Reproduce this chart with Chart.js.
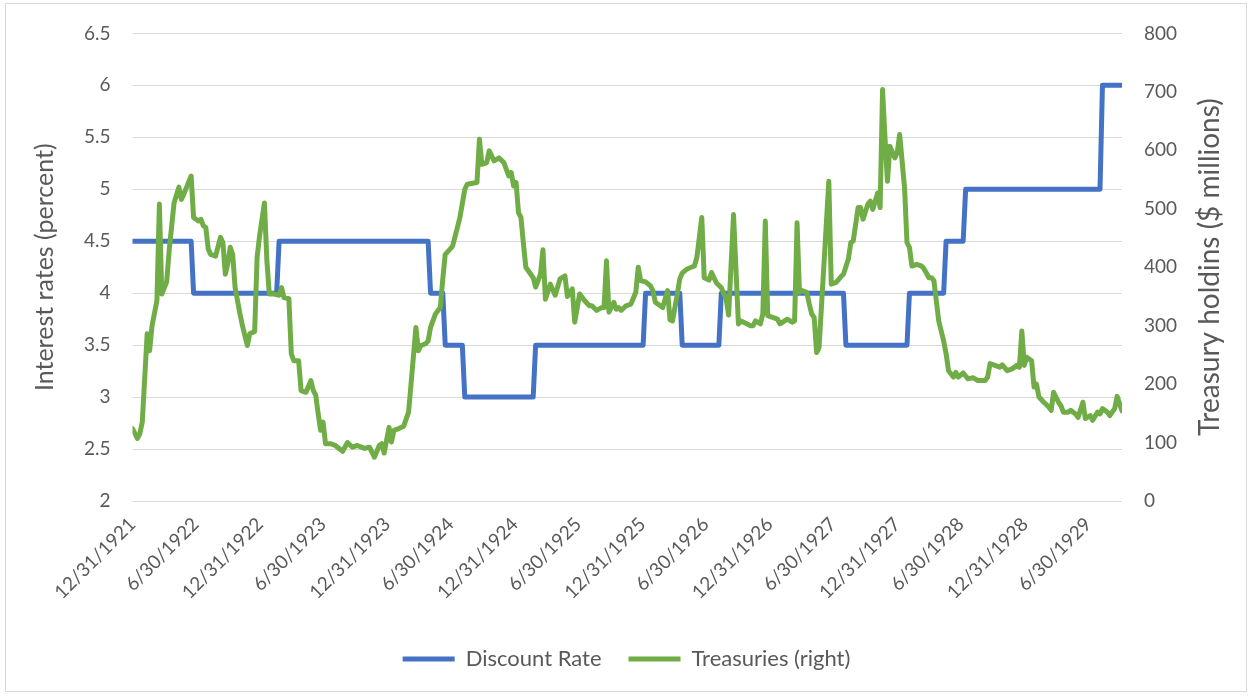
<!DOCTYPE html>
<html>
<head>
<meta charset="utf-8">
<script src="https://cdn.jsdelivr.net/npm/chart.js@4.4.1/dist/chart.umd.min.js"></script>
<style>
  html, body { margin: 0; padding: 0; background: #fff; }
  canvas { display: block; }
</style>
</head>
<body>
<canvas id="chart" width="1252" height="696"></canvas>
<script>
// half-year labels on the date axis
const dateTicks = ['12/31/1921', '6/30/1922', '12/31/1922', '6/30/1923', '12/31/1923', '6/30/1924',
  '12/31/1924', '6/30/1925', '12/31/1925', '6/30/1926', '12/31/1926', '6/30/1927',
  '12/31/1927', '6/30/1928', '12/31/1928', '6/30/1929'];

// discount rate: week of each change (weeks after 12/31/1921) and the new rate
const rateWeeks = [0, 25, 60, 122, 128, 136, 165, 210, 225, 241, 292, 318, 333, 341, 397];
const rateValues = [4.5, 4, 4.5, 4, 3.5, 3, 3.5, 4, 3.5, 4, 3.5, 4, 4.5, 5, 6];
const lastWeek = 405;

// treasury holdings, $ millions, as [week, value]
const treasuries = [
  [0,124],[2,107],[3,115],[4,135],[6,286],[7,257],[8,300],[10,343],[11,508],[12,354],[14,375],[15,428],
  [17,510],[19,537],[20,516],[21,525],[24,556],[25,485],[27,479],[28,482],[29,471],[30,468],[31,431],
  [32,422],[34,419],[36,451],[37,442],[38,388],[39,406],[40,434],[41,422],[42,365],[44,320],[45,300],
  [47,266],[48,286],[50,290],[51,417],[52,453],[54,510],[55,411],[56,354],[58,354],[60,352],[61,365],
  [62,348],[64,346],[65,252],[66,240],[68,240],[69,189],[71,186],[73,206],[74,189],[75,181],[76,149],
  [77,121],[78,135],[79,98],[81,98],[83,95],[86,85],[88,100],[90,92],[92,95],[95,90],[97,92],[99,75],
  [101,95],[102,98],[103,82],[105,126],[106,101],[107,121],[109,124],[111,128],[113,152],[114,200],
  [116,297],[117,257],[118,266],[120,269],[121,274],[122,297],[124,320],[126,331],[127,380],[128,422],
  [130,431],[131,436],[133,468],[134,485],[136,533],[137,542],[141,545],[142,619],[143,576],[145,579],
  [146,599],[148,582],[150,587],[152,579],[154,556],[155,562],[156,539],[157,545],[158,493],[159,485],
  [160,440],[161,400],[163,388],[164,382],[165,366],[167,388],[168,430],[169,345],[171,371],[173,352],
  [175,380],[177,385],[178,350],[180,363],[181,306],[183,354],[185,343],[187,334],[188,334],[190,326],
  [192,331],[193,331],[194,411],[195,323],[197,340],[198,328],[199,331],[200,326],[202,334],[204,337],
  [206,357],[207,400],[208,377],[210,375],[212,368],[213,360],[214,340],[215,337],[217,331],[219,360],
  [220,310],[221,308],[223,354],[224,380],[225,390],[227,397],[230,402],[231,417],[233,485],[234,382],
  [236,378],[237,391],[239,373],[241,365],[243,345],[244,318],[246,490],[248,303],[249,308],[251,304],
  [253,300],[254,300],[255,308],[257,303],[258,320],[259,479],[260,317],[262,314],[264,311],[265,303],
  [268,311],[270,306],[271,308],[272,476],[273,357],[274,360],[276,357],[277,337],[278,320],[279,314],
  [280,254],[281,262],[285,547],[286,371],[288,374],[290,384],[291,388],[293,414],[294,442],[295,445],
  [297,502],[298,502],[299,482],[301,508],[302,513],[303,499],[305,527],[306,502],[307,704],[308,621],
  [309,547],[310,607],[312,587],[313,596],[314,627],[316,536],[317,442],[318,434],[319,402],[321,405],
  [323,402],[324,397],[326,382],[327,382],[328,377],[330,308],[332,274],[333,252],[334,223],[336,212],
  [337,220],[338,212],[340,219],[342,209],[344,211],[346,206],[349,206],[350,212],[351,235],[353,232],
  [355,229],[356,233],[358,223],[360,226],[362,232],[363,229],[364,291],[365,232],[366,246],[368,240],
  [369,195],[370,200],[371,178],[373,169],[375,161],[376,155],[377,186],[379,169],[380,163],[381,152],
  [383,152],[384,155],[386,149],[387,143],[389,169],[390,141],[392,146],[393,138],[395,152],[396,149],
  [397,158],[399,152],[400,146],[402,158],[403,179],[405,154]
];

const DAY0 = Date.UTC(1921, 11, 31);
const weekOf = s => {
  const [m, d, y] = s.split('/').map(Number);
  return (Date.UTC(y, m - 1, d) - DAY0) / 864e5 / 7;
};
const tickWeeks = dateTicks.map(weekOf);

// weekly step line: old rate held until the week before each change
const ratePoints = [];
rateWeeks.forEach((w, i) => {
  if (i > 0) ratePoints.push({ x: w - 1, y: rateValues[i - 1] });
  ratePoints.push({ x: w, y: rateValues[i] });
});
ratePoints.push({ x: lastWeek, y: rateValues[rateValues.length - 1] });

const GREY = '#595959';
const FONT = 'Lato';

// white background, light frame and the upward-reading right axis title
const decor = {
  id: 'decor',
  beforeDraw(chart) {
    const c = chart.ctx;
    c.save();
    c.fillStyle = '#fff';
    c.fillRect(0, 0, chart.width, chart.height);
    c.strokeStyle = '#d9d9d9';
    c.lineWidth = 1;
    c.strokeRect(5.5, 3.5, 1241, 688);
    c.restore();
  },
  afterDraw(chart) {
    const c = chart.ctx;
    const a = chart.chartArea;
    c.save();
    c.translate(1210, (a.top + a.bottom) / 2);
    c.rotate(-Math.PI / 2);
    c.font = '28px ' + FONT;
    c.fillStyle = GREY;
    c.textAlign = 'center';
    c.textBaseline = 'middle';
    c.fillText('Treasury holdins ($ millions)', 0, 0);
    c.restore();
  }
};

new Chart(document.getElementById('chart').getContext('2d'), {
  type: 'line',
  data: {
    datasets: [
      {
        label: 'Discount Rate',
        data: ratePoints,
        borderColor: '#4472C4',
        backgroundColor: '#4472C4',
        borderWidth: 5,
        borderCapStyle: 'round',
        borderJoinStyle: 'round',
        pointRadius: 0,
        yAxisID: 'y',
        order: 1
      },
      {
        label: 'Treasuries (right)',
        data: treasuries.map(([w, v]) => ({ x: w, y: v })),
        borderColor: '#70AD47',
        backgroundColor: '#70AD47',
        borderWidth: 5,
        borderCapStyle: 'round',
        borderJoinStyle: 'round',
        pointRadius: 0,
        yAxisID: 'y2',
        order: 0
      }
    ]
  },
  options: {
    responsive: false,
    animation: false,
    layout: { padding: { top: 32, left: 21, right: 20, bottom: 16 } },
    scales: {
      x: {
        type: 'linear',
        position: 'bottom',
        min: 0,
        max: lastWeek,
        grid: { display: false },
        border: { display: false },
        afterBuildTicks: scale => { scale.ticks = tickWeeks.map(v => ({ value: v })); },
        afterFit: scale => { scale.height = 120; },
        ticks: {
          autoSkip: false,
          minRotation: 45,
          maxRotation: 45,
          padding: 4,
          color: GREY,
          font: { family: FONT, size: 19 },
          callback: (v, i) => dateTicks[i]
        }
      },
      y: {
        position: 'left',
        min: 2,
        max: 6.5,
        afterFit: scale => { scale.width = 111.5; },
        grid: { color: '#d9d9d9', lineWidth: 1, drawTicks: false },
        border: { display: false },
        ticks: {
          stepSize: 0.5,
          padding: 22,
          color: GREY,
          font: { family: FONT, size: 19 },
          callback: v => v
        },
        title: {
          display: true,
          text: 'Interest rates (percent)',
          color: GREY,
          font: { family: FONT, size: 25 },
          padding: { top: 9, bottom: 0 }
        }
      },
      y2: {
        position: 'right',
        min: 0,
        max: 800,
        afterFit: scale => { scale.width = 110; },
        grid: { display: false, drawTicks: false },
        border: { display: false },
        ticks: {
          stepSize: 100,
          padding: 22,
          color: GREY,
          font: { family: FONT, size: 19 }
        }
      }
    },
    plugins: {
      legend: {
        position: 'bottom',
        labels: {
          usePointStyle: true,
          pointStyle: 'line',
          pointStyleWidth: 52,
          padding: 27,
          color: GREY,
          font: { family: FONT, size: 22 },
          sort: (a, b) => a.datasetIndex - b.datasetIndex
        }
      },
      tooltip: { enabled: false }
    }
  },
  plugins: [decor]
});
</script>
</body>
</html>
